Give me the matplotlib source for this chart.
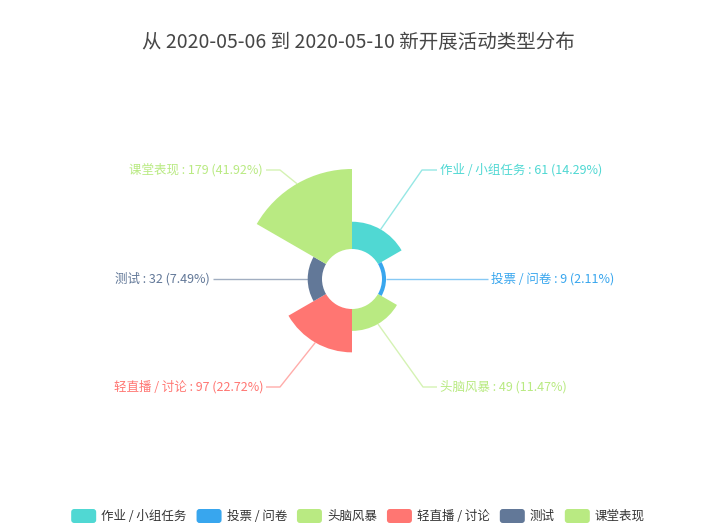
import math
import matplotlib.pyplot as plt
from matplotlib.patches import Wedge, FancyBboxPatch
from matplotlib.colors import to_rgba

plt.rcParams['font.family'] = ['Noto Sans CJK SC', 'DejaVu Sans']

# data
categories = ['作业 / 小组任务', '投票 / 问卷', '头脑风暴', '轻直播 / 讨论', '测试', '课堂表现']
values = [61, 9, 49, 97, 32, 179]
colors = ['#50d8d3', '#38a6ee', '#b9ea82', '#ff7672', '#627898', '#b9ea82']
title = '从 2020-05-06 到 2020-05-10 新开展活动类型分布'

# layout (pixels)
W, H = 716, 530
cx, cy = 352, 279
r0, r1 = 30, 110
PT = 0.72  # px -> pt at dpi 100
FS = 12.5

# label leader layout: (elbow dx, elbow dy, end dx) relative to centre, per slice
leaders = [(70, -109, 85), (121, 0, 136), (71, 108, 85),
           (-72, 108, -86), (-124, 0, -139), (-72, -109, -86)]


def percents(vals, digits=2):
    # largest remainder so the shares add up to 100
    total = sum(vals)
    scale = 10 ** digits
    raw = [v / total * 100 * scale for v in vals]
    floors = [math.floor(x) for x in raw]
    left = 100 * scale - sum(floors)
    order = sorted(range(len(vals)), key=lambda i: raw[i] - floors[i], reverse=True)
    for i in order[:left]:
        floors[i] += 1
    return [f / scale for f in floors]


fig = plt.figure(figsize=(W / 100, H / 100), dpi=100)
ax = fig.add_axes([0, 0, 1, 1])
ax.set_xlim(0, W)
ax.set_ylim(H, 0)
ax.axis('off')

pcts = percents(values)
vmax = max(values)
n = len(values)
step = 360 / n

for i, (cat, v, col) in enumerate(zip(categories, values, colors)):
    a_start = 90 - i * step
    a_end = a_start - step
    r = r0 + (r1 - r0) * v / vmax
    # y axis inverted -> negate angles
    ax.add_patch(Wedge((cx, cy), r, -a_start, -a_end, width=r - r0,
                       facecolor=col, edgecolor='none'))

    mid = math.radians((a_start + a_end) / 2)
    sx = cx + r * math.cos(mid)
    sy = cy - r * math.sin(mid)
    ex_, ey_, fx_ = leaders[i]
    ax.plot([sx, cx + ex_, cx + fx_], [sy, cy + ey_, cy + ey_],
            color=to_rgba(col, 0.6), lw=1, solid_capstyle='butt')
    right = fx_ > 0
    ax.text(cx + fx_ + (3 if right else -3), cy + ey_,
            f'{cat} : {v} ({pcts[i]:.2f}%)', color=col, fontsize=FS * PT,
            ha='left' if right else 'right', va='center')

ax.text(W / 2, 42, title, ha='center', va='center', fontsize=19.5 * PT, color='#464646')

# legend, centred row
fig.canvas.draw()
renderer = fig.canvas.get_renderer()
icon_w, icon_h, gap_t, gap_i = 25, 14, 5, 10
widths = []
for cat in categories:
    t = ax.text(0, 0, cat, fontsize=FS * PT)
    widths.append(t.get_window_extent(renderer).width)
    t.remove()
total_w = sum(icon_w + gap_t + w for w in widths) + gap_i * (n - 1)
x = W / 2 - total_w / 2
ly = 516
for cat, col, w in zip(categories, colors, widths):
    ax.add_patch(FancyBboxPatch((x, ly - icon_h / 2), icon_w, icon_h,
                                boxstyle='round,pad=0,rounding_size=3',
                                facecolor=col, edgecolor='none'))
    ax.text(x + icon_w + gap_t, ly, cat, fontsize=FS * PT, color='#333333',
            ha='left', va='center')
    x += icon_w + gap_t + w + gap_i

fig.savefig('out.png', dpi=100)
